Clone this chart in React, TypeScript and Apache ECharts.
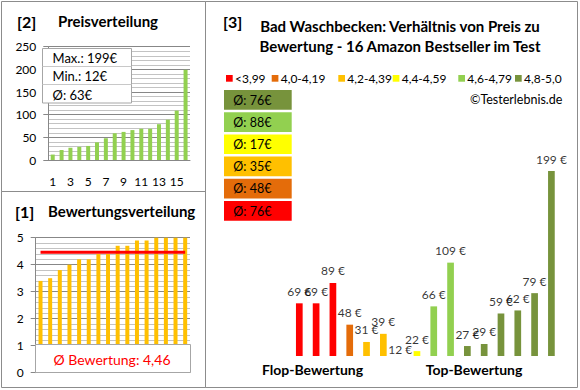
import React, { useEffect, useRef } from "react";
import * as echarts from "echarts";

// ---------- data ----------
const priceCategories = ["1","2","3","4","5","6","7","8","9","10","11","12","13","14","15","16"];
const priceValues = [12, 22, 27, 29, 31, 39, 48, 59, 62, 66, 69, 69, 79, 89, 109, 199];
const priceStats = ["Max.: 199€", "Min.: 12€", "Ø: 63€"];

const ratingValues = [3.4, 3.5, 3.8, 4.0, 4.2, 4.2, 4.4, 4.4, 4.7, 4.7, 4.9, 4.9, 5.0, 5.0, 5.0, 5.0];
const ratingAverage = 4.46;
const ratingAverageLabel = "Ø Bewertung: 4,46";

const productPrices = [69, 69, 89, 48, 31, 39, 12, 22, 66, 109, 27, 29, 59, 62, 79, 199];
const productGroups = [0, 0, 0, 1, 2, 2, 3, 3, 4, 4, 5, 5, 5, 5, 5, 5];
const groupNames = ["<3,99", "4,0-4,19", "4,2-4,39", "4,4-4,59", "4,6-4,79", "4,8-5,0"];
const groupColors = ["#FF0000", "#E46C0A", "#FFC000", "#FFFF00", "#92D050", "#77933C"];
const groupAverages = ["Ø: 76€", "Ø: 48€", "Ø: 35€", "Ø: 17€", "Ø: 88€", "Ø: 76€"];

const titles = {
  price: "Preisverteilung",
  rating: "Bewertungsverteilung",
  main: "Bad Waschbecken: Verhältnis von Preis zu\nBewertung - 16 Amazon Bestseller im Test",
  copyright: "©Testerlebnis.de",
  flop: "Flop-Bewertung",
  top: "Top-Bewertung",
};

const FONT = "Lato, 'Liberation Sans', sans-serif";
const BORDER = "#8C8C8C";
const MAJOR = "#878787";
const MINOR = "#C3C3C3";

function txt(text: string, x: number, y: number, size: number, opts: any = {}) {
  return {
    type: "text",
    x,
    y,
    z: opts.z ?? 60,
    style: {
      text,
      fill: opts.fill ?? "#000",
      font: `${opts.bold ? "bold " : ""}${size}px ${FONT}`,
      align: opts.align ?? "left",
      textAlign: opts.align ?? "left",
      verticalAlign: "middle",
      textVerticalAlign: "middle",
      lineHeight: opts.lineHeight,
    },
  };
}

export default function App() {
  const ref = useRef<HTMLDivElement>(null);

  useEffect(() => {
    if (!ref.current) return;
    const chart = echarts.init(ref.current, undefined, { renderer: "svg" });

    const graphics: any[] = [];
    // panel borders
    graphics.push({ type: "rect", z: 1, shape: { x: 1.5, y: 1.5, width: 204, height: 190 }, style: { fill: "none", stroke: BORDER, lineWidth: 1 } });
    graphics.push({ type: "rect", z: 1, shape: { x: 1.5, y: 191.5, width: 204, height: 196 }, style: { fill: "none", stroke: BORDER, lineWidth: 1 } });
    graphics.push({ type: "rect", z: 1, shape: { x: 205.5, y: 1.5, width: 372, height: 386 }, style: { fill: "none", stroke: BORDER, lineWidth: 1 } });

    // panel titles
    graphics.push(txt("[2]", 17, 21, 16, { bold: true }));
    graphics.push(txt(titles.price, 58, 21, 15, { bold: true }));
    graphics.push(txt("[1]", 15, 211, 16, { bold: true }));
    graphics.push(txt(titles.rating, 48, 211, 15, { bold: true }));
    graphics.push(txt("[3]", 223, 21, 16, { bold: true }));
    graphics.push(txt(titles.main, 400, 36, 15, { bold: true, align: "center", lineHeight: 20 }));

    // price stats box
    graphics.push({ type: "rect", z: 50, shape: { x: 42.5, y: 48.5, width: 89, height: 54.5 }, style: { fill: "#fff", stroke: "#A6A6A6", lineWidth: 1 } });
    graphics.push({ type: "line", z: 51, shape: { x1: 42.5, y1: 66.5, x2: 131.5, y2: 66.5 }, style: { stroke: "#C8C8C8", lineWidth: 1 } });
    graphics.push({ type: "line", z: 51, shape: { x1: 42.5, y1: 84.5, x2: 131.5, y2: 84.5 }, style: { stroke: "#C8C8C8", lineWidth: 1 } });
    priceStats.forEach((s, i) => graphics.push(txt(s, 52.5, 58 + i * 18.3, 13)));

    // rating average box
    graphics.push({ type: "rect", z: 50, shape: { x: 35.5, y: 344.5, width: 155, height: 28 }, style: { fill: "#fff", stroke: "#A6A6A6", lineWidth: 1 } });
    graphics.push(txt(ratingAverageLabel, 112, 359, 14, { fill: "#FF0000", align: "center" }));

    // legend
    const legendX = [226, 271.7, 338.3, 392.7, 458.3, 515];
    groupNames.forEach((n, i) => {
      graphics.push({ type: "rect", z: 50, shape: { x: legendX[i], y: 75, width: 6.7, height: 6.7 }, style: { fill: groupColors[i] } });
      graphics.push(txt(n, legendX[i] + 9, 78.5, 12));
    });
    graphics.push(txt(titles.copyright, 470, 99, 12.5));

    // group average boxes (best group first)
    for (let k = 0; k < 6; k++) {
      const g = 5 - k;
      const y = 90 + k * 22.2;
      graphics.push({ type: "rect", z: 50, shape: { x: 224, y, width: 67.7, height: 19.7 }, style: { fill: groupColors[g] } });
      graphics.push(txt(groupAverages[g], 233.3, y + 10, 12.5));
    }

    graphics.push(txt(titles.flop, 312.5, 369.5, 14, { bold: true, align: "center" }));
    graphics.push(txt(titles.top, 474, 369.5, 14, { bold: true, align: "center" }));

    const axisLabelStyle = { color: "#000", fontFamily: FONT, fontSize: 12 };

    chart.setOption({
      animation: false,
      backgroundColor: "#fff",
      grid: [
        { left: 48.3, top: 46.7, width: 141.7, height: 113.3 },
        { left: 35.7, top: 237.7, width: 154.3, height: 135 },
        { left: 290.9, top: 149.75, width: 268.9, height: 206.25 },
      ],
      xAxis: [
        {
          type: "category", gridIndex: 0, data: priceCategories,
          axisLine: { show: true, lineStyle: { color: MAJOR } },
          axisTick: { show: false },
          axisLabel: { ...axisLabelStyle, interval: 1, margin: 15 },
        },
        {
          type: "category", gridIndex: 1, data: priceCategories,
          axisLine: { show: true, lineStyle: { color: MAJOR } },
          axisTick: { show: false },
          axisLabel: { show: false },
        },
        { type: "category", gridIndex: 2, data: priceCategories, show: false },
      ],
      yAxis: [
        {
          type: "value", gridIndex: 0, min: 0, max: 250, interval: 50,
          axisLine: { show: true, lineStyle: { color: MAJOR } },
          axisTick: { show: true, length: 5, lineStyle: { color: MAJOR } },
          axisLabel: { ...axisLabelStyle, margin: 12 },
          splitLine: { show: true, lineStyle: { color: MAJOR } },
          minorTick: { show: false, splitNumber: 5 },
          minorSplitLine: { show: true, lineStyle: { color: MINOR } },
        },
        {
          type: "value", gridIndex: 1, min: 0, max: 5, interval: 1,
          axisLine: { show: true, lineStyle: { color: MAJOR } },
          axisTick: { show: true, length: 5, lineStyle: { color: MAJOR } },
          axisLabel: { ...axisLabelStyle, margin: 12 },
          splitLine: { show: true, lineStyle: { color: MAJOR } },
          minorTick: { show: false, splitNumber: 5 },
          minorSplitLine: { show: true, lineStyle: { color: MINOR } },
        },
        { type: "value", gridIndex: 2, min: 17.2, max: 220, show: false, splitLine: { show: false } },
      ],
      series: [
        {
          type: "bar", xAxisIndex: 0, yAxisIndex: 0, data: priceValues,
          barWidth: 4, itemStyle: { color: "#92D050" },
        },
        {
          type: "bar", xAxisIndex: 1, yAxisIndex: 1, data: ratingValues,
          barWidth: 4, itemStyle: { color: "#FFC000" },
        },
        {
          type: "line", xAxisIndex: 1, yAxisIndex: 1,
          data: ratingValues.map(() => ratingAverage),
          symbol: "none", z: 5,
          lineStyle: { color: "#FF0000", width: 3 },
        },
        {
          type: "bar", xAxisIndex: 2, yAxisIndex: 2, clip: true,
          data: productPrices.map((v, i) => ({ value: v, itemStyle: { color: groupColors[productGroups[i]] } })),
          barWidth: 6.7,
        },
        {
          type: "scatter", xAxisIndex: 2, yAxisIndex: 2, clip: false,
          data: productPrices,
          symbolSize: 0,
          itemStyle: { color: "transparent" },
          label: {
            show: true, position: "top", distance: 6,
            formatter: "{c} €", color: "#000", fontFamily: FONT, fontSize: 12,
          },
        },
      ],
      graphic: { elements: graphics },
    });

    return () => chart.dispose();
  }, []);

  return (
    <div
      ref={ref}
      style={{ position: "absolute", left: 0, top: 0, width: 580, height: 390, background: "#fff" }}
    />
  );
}
